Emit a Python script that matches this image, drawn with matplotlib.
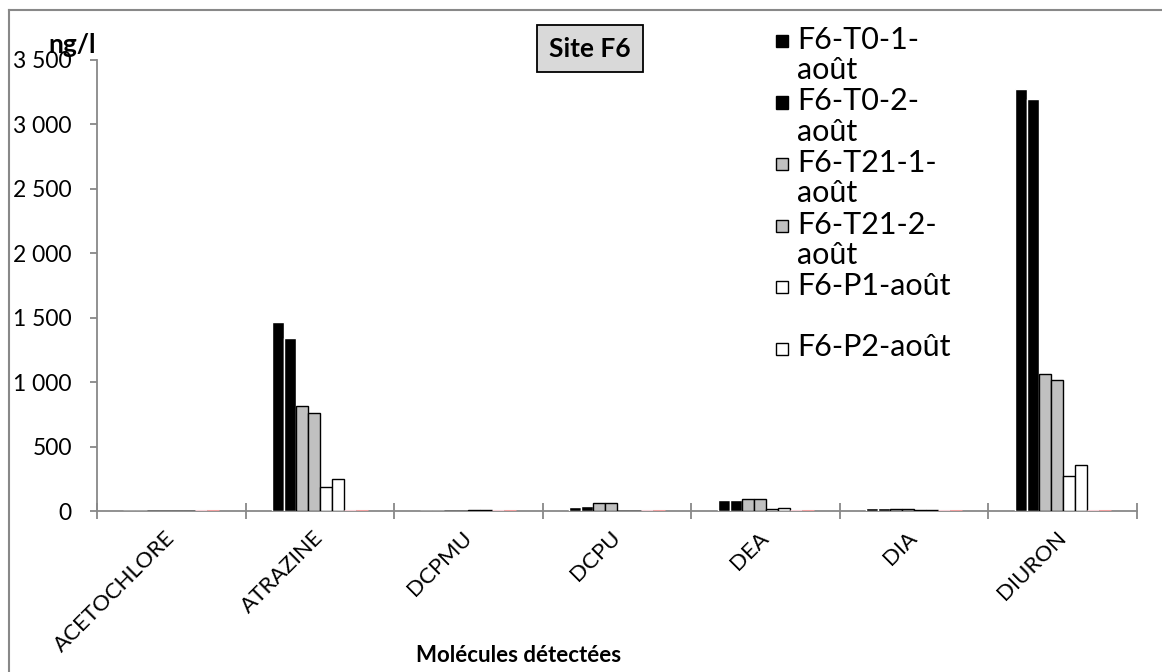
import numpy as np
import matplotlib.pyplot as plt
from matplotlib.patches import Rectangle
from matplotlib.ticker import FuncFormatter

molecules = ['ACETOCHLORE', 'ATRAZINE', 'DCPMU', 'DCPU', 'DEA', 'DIA', 'DIURON']

series_names = ['F6-T0-1-\naoût', 'F6-T0-2-\naoût', 'F6-T21-1-\naoût',
                'F6-T21-2-\naoût', 'F6-P1-août', 'F6-P2-août']

t0_1 = [0, 1470, 0, 28, 88, 21, 3275]
t0_2 = [0, 1340, 0, 38, 88, 21, 3195]
t21_1 = [0, 818, 0, 60, 96, 18, 1062]
t21_2 = [0, 762, 0, 60, 96, 18, 1018]
p1 = [0, 190, 4, 3, 19, 11, 272]
p2 = [0, 248, 4, 3, 26, 11, 358]
# two extra series, all at zero (only a pink stub on the axis)
extra_1 = [0, 0, 0, 0, 0, 0, 0]
extra_2 = [0, 0, 0, 0, 0, 0, 0]

values = [t0_1, t0_2, t21_1, t21_2, p1, p2, extra_1, extra_2]
fills = ['black', 'black', '#c0c0c0', '#c0c0c0', 'white', 'white', 'white', 'white']
edges = ['white', 'white', 'black', 'black', 'black', 'black', '#f6d0d6', '#f2a0a0']

plt.rcParams['font.family'] = ['Lato', 'DejaVu Sans']

W, H = 1162, 672
fig = plt.figure(figsize=(W / 100, H / 100), dpi=100)
ax = fig.add_axes([97 / W, 1 - 511 / H, 1040 / W, 451 / H])

x = np.arange(len(molecules))
slot = 0.0808
for k, (vals, fc, ec) in enumerate(zip(values, fills, edges)):
    lw = 2.2 if k >= 6 else 1.0
    ax.bar(x + (k - 3.5) * slot, vals, width=slot, color=fc, edgecolor=ec,
           linewidth=lw, zorder=3)

ax.set_xlim(-0.5, len(molecules) - 0.5)
ax.set_ylim(0, 3500)
ax.set_yticks(np.arange(0, 3501, 500))
ax.yaxis.set_major_formatter(FuncFormatter(lambda v, p: f'{int(v):,}'.replace(',', ' ')))

ax.set_xticks(np.arange(-0.5, len(molecules)), labels=[])
ax.set_xticks(x, labels=molecules, minor=True)
ax.tick_params(axis='x', which='major', direction='inout', length=12, width=1.3, color='#888888')
ax.tick_params(axis='x', which='minor', length=0, pad=17)
for lab in ax.get_xticklabels(minor=True):
    lab.set_rotation(45)
    lab.set_ha('right')
    lab.set_va('center')
    lab.set_rotation_mode('anchor')
    lab.set_fontsize(16)
ax.tick_params(axis='y', direction='out', length=5, width=1.3, color='#888888', labelsize=16.5, pad=13)

for s in ['top', 'right']:
    ax.spines[s].set_visible(False)
for s in ['left', 'bottom']:
    ax.spines[s].set_color('#888888')
    ax.spines[s].set_linewidth(1.3)
ax.spines['bottom'].set_zorder(2)

# unit label at top-left, bold
fig.text(48 / W, 1 - 45 / H, 'ng/l', fontsize=19, fontweight='bold', va='center', ha='left')
fig.text(519 / W, 1 - 655 / H, 'Molécules détectées', fontsize=16, fontweight='bold',
         ha='center', va='center')

# title box
fig.patches.append(Rectangle((537 / W, 1 - 72 / H), 106 / W, 47 / H,
                             transform=fig.transFigure, facecolor='#d9d9d9',
                             edgecolor='black', linewidth=1.3, zorder=5))
fig.text(590 / W, 1 - 49 / H, 'Site F6', fontsize=19, fontweight='bold',
         ha='center', va='center', zorder=6)

# chart frame (only top and left visible)
fig.add_artist(plt.Line2D([9 / W, 1], [1 - 10 / H, 1 - 10 / H],
                          transform=fig.transFigure, color='#888888', lw=1.5))
fig.add_artist(plt.Line2D([9 / W, 9 / W], [0, 1 - 10 / H],
                          transform=fig.transFigure, color='#888888', lw=1.5))

# legend drawn by hand (Excel-like: two-line slots, marker on first line)
for i, (name, fc) in enumerate(zip(series_names, fills[:6])):
    yc = 41 + i * 61.5
    fig.patches.append(Rectangle((776 / W, 1 - (yc + 6) / H), 12 / W, 12 / H,
                                 transform=fig.transFigure, facecolor=fc,
                                 edgecolor='black', linewidth=1.0))
    fig.text(797 / W, 1 - (yc - 15) / H, name, fontsize=22, va='top', ha='left',
             linespacing=1.1)

fig.savefig('out.png', dpi=100)
